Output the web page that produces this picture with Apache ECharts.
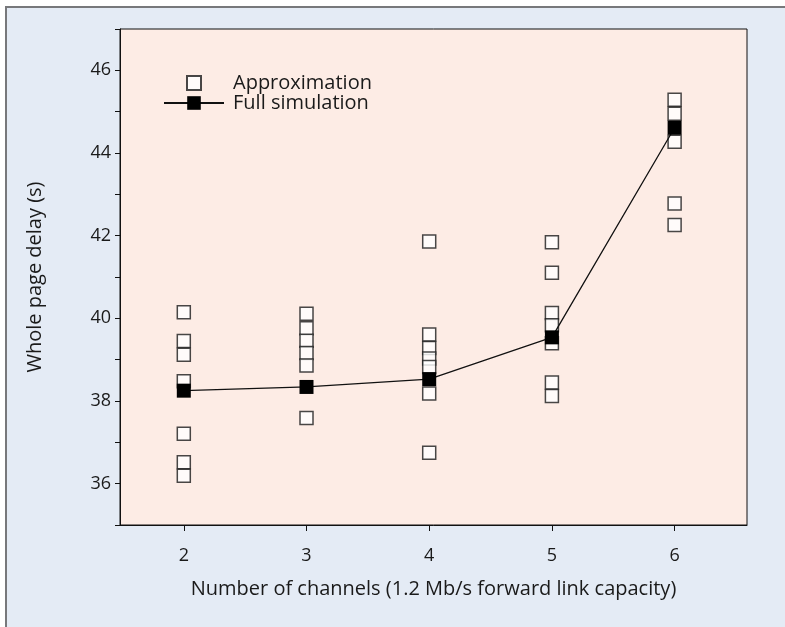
<!DOCTYPE html>
<html>
<head>
<meta charset="utf-8">
<script src="https://cdn.jsdelivr.net/npm/echarts@6/dist/echarts.min.js"></script>
<style>
  html, body { margin: 0; padding: 0; background: #ffffff; overflow: hidden; }
  #frame {
    position: absolute; left: 5px; top: 6px; width: 800px; height: 640px;
    background: #e4ebf5; border-left: 2px solid #77787b; border-top: 2px solid #77787b;
    box-sizing: border-box;
  }
  #chart { position: absolute; left: 0; top: 0; width: 785px; height: 627px; }
</style>
</head>
<body>
<div id="frame"></div>
<div id="chart"></div>
<script>
// Number of channels on the x axis
const channels = [2, 3, 4, 5, 6];

// Approximation runs, one list of delays (s) per channel count
const approx2 = [40.15, 39.45, 39.12, 38.48, 37.21, 36.52, 36.19];
const approx3 = [40.11, 39.76, 39.46, 39.16, 38.86, 37.59];
const approx4 = [41.86, 39.61, 39.28, 39.03, 38.82, 38.18, 36.75];
const approx5 = [41.84, 41.10, 40.13, 39.83, 39.40, 38.45, 38.12];
const approx6 = [45.29, 44.95, 44.27, 42.78, 42.26];
const approxByChannel = [approx2, approx3, approx4, approx5, approx6];

// Full simulation delay (s) per channel count
const fullSim = [38.25, 38.34, 38.53, 39.54, 44.61];

// Y tick labels shown (odd values only get a tick)
const yLabels = [36, 38, 40, 42, 44, 46];

const FONT = 'Open Sans';
const TEXT = '#1a1a1a';

const approxPoints = [];
approxByChannel.forEach((list, i) => {
  list.forEach(v => approxPoints.push([channels[i], v]));
});
const fullPoints = channels.map((c, i) => [c, fullSim[i]]);

const chart = echarts.init(document.getElementById('chart'), null, { renderer: 'canvas' });
chart.setOption({
  backgroundColor: 'transparent',
  animation: false,
  grid: {
    left: 120, top: 29, width: 627, height: 496,
    show: true, backgroundColor: '#fdece5', borderColor: '#111', borderWidth: 1
  },
  legend: [
    {
      data: ['Approximation'], left: 186, top: 73, padding: 0,
      itemWidth: 14, itemHeight: 14,
      textStyle: { fontFamily: FONT, fontSize: 20, color: TEXT, padding: [0, 0, 0, 27] },
      selectedMode: false
    },
    {
      data: ['Full simulation'], left: 163, top: 93, padding: 0,
      itemWidth: 60, itemHeight: 17,
      textStyle: { fontFamily: FONT, fontSize: 20, color: TEXT, padding: [0, 0, 0, 4] },
      selectedMode: false
    }
  ],
  xAxis: {
    type: 'value', min: 1.48, max: 6.59,
    name: 'Number of channels (1.2 Mb/s forward link capacity)',
    nameLocation: 'middle', nameGap: 54,
    nameTextStyle: { fontFamily: FONT, fontSize: 20, color: TEXT },
    axisLine: { show: true, onZero: false, lineStyle: { color: '#111', width: 1 } },
    axisTick: { show: true, length: 6, customValues: channels, lineStyle: { color: '#111' } },
    axisLabel: {
      customValues: channels, margin: 22,
      fontFamily: FONT, fontSize: 18, color: TEXT
    },
    splitLine: { show: false }
  },
  yAxis: {
    type: 'value', min: 35, max: 47, interval: 1,
    name: 'Whole page delay (s)',
    nameLocation: 'middle', nameGap: 75,
    nameTextStyle: { fontFamily: FONT, fontSize: 20, color: TEXT },
    axisLine: { show: true, lineStyle: { color: '#111', width: 1 } },
    axisTick: { show: true, length: 5, lineStyle: { color: '#111' } },
    axisLabel: {
      margin: 9, fontFamily: FONT, fontSize: 18, color: TEXT,
      formatter: v => (yLabels.indexOf(v) >= 0 ? String(v) : '')
    },
    splitLine: { show: false }
  },
  series: [
    {
      name: 'Approximation', type: 'scatter', data: approxPoints,
      symbol: 'rect', symbolSize: 13, z: 2,
      itemStyle: { color: '#ffffff', borderColor: '#1a1a1a', borderWidth: 1.5 }
    },
    {
      name: 'Full simulation', type: 'line', data: fullPoints,
      symbol: 'rect', symbolSize: 14, showSymbol: true, z: 3,
      lineStyle: { color: '#111', width: 1.3 },
      itemStyle: { color: '#000', borderColor: '#000', borderWidth: 0 }
    }
  ]
});
</script>
</body>
</html>
